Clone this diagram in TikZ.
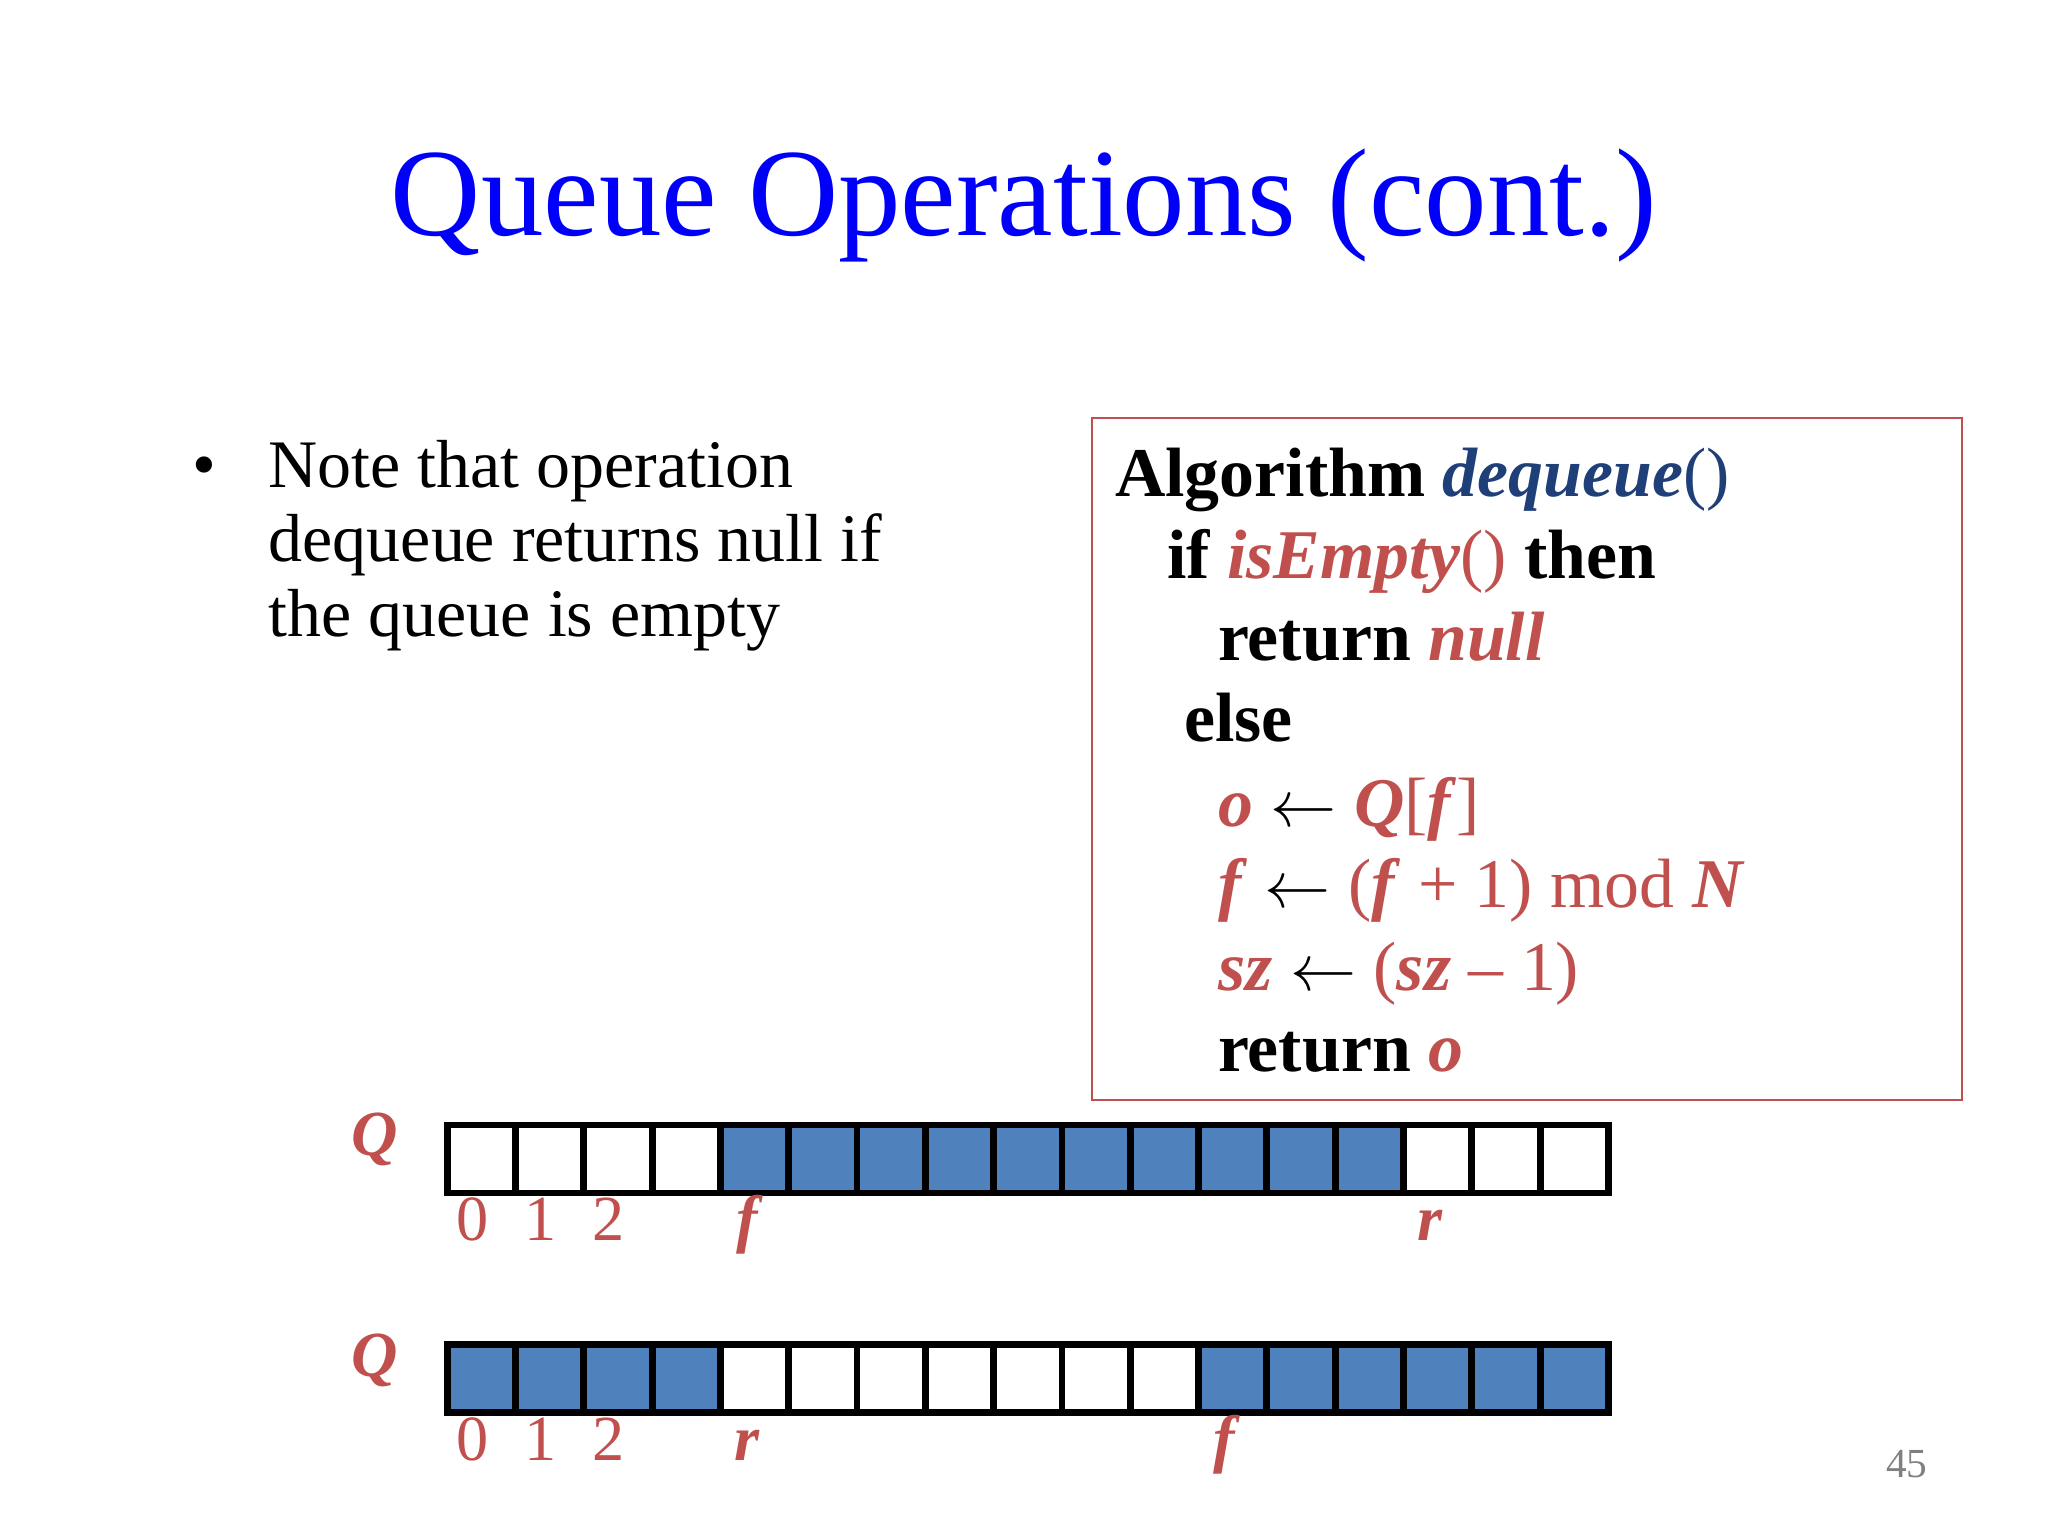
\documentclass[tikz,border=0pt]{standalone}
\usepackage{fontspec}
\setmainfont{Liberation Serif}
\definecolor{ttl}{RGB}{0,0,250}
\definecolor{dred}{RGB}{192,80,77}
\definecolor{dblue}{RGB}{31,63,120}
\definecolor{cellb}{RGB}{79,129,189}
\begin{document}
\begin{tikzpicture}[x=0.01cm,y=-0.01cm,
  txt/.style={anchor=base west,inner sep=0,font=\fontsize{14.8}{18}\selectfont},
  alg/.style={anchor=base west,inner sep=0,font=\fontsize{15.2}{18}\selectfont\bfseries},
  idx/.style={anchor=base,inner sep=0,text=dred,font=\fontsize{14}{16}\selectfont},
  cell/.style={draw=black,line width=0.05cm,minimum width=0.52cm,minimum height=0.52cm,inner sep=0,anchor=north west}]
\useasboundingbox (0,0) rectangle (1568,1176);
\node[anchor=base,inner sep=0,text=ttl,font=\fontsize{27.2}{30}\selectfont] (title) at (784,180) {Queue Operations (cont.)};
\node[txt] (b) at (147,373) {\textbullet};
\node[txt] (l1) at (205,373) {Note that operation};
\node[txt] (l2) at (205,430) {dequeue returns null if};
\node[txt] (l3) at (205,487) {the queue is empty};
\draw[dred,line width=0.013cm] (836,320) rectangle (1502,842);
\node[alg] (a1) at (853,380) {Algorithm \textcolor{dblue}{\textit{dequeue}}\textmd{\textcolor{dblue}{()}}};
\node[alg] (a2) at (893,443) {if \textcolor{dred}{\textit{isEmpty}\textmd{()}} then};
\node[alg] (a3) at (932,506) {return \textcolor{dred}{\textit{null}}};
\node[alg] (a4) at (906,568) {else};
\node[alg,text=dred] (a5) at (932,633) {\textit{o} \textcolor{black}{$\leftarrow$} \textit{Q}\textmd{[}\textit{f}\textmd{]}};
\node[alg,text=dred] (a6) at (932,695) {\textit{f} \textcolor{black}{$\leftarrow$} \textmd{(}\textit{f} \textmd{+ 1) mod} \textit{N}};
\node[alg,text=dred] (a7) at (932,758) {\textit{sz} \textcolor{black}{$\leftarrow$} \textmd{(}\textit{sz} \textmd{– 1)}};
\node[alg] (a8) at (932,820) {return \textcolor{dred}{\textit{o}}};
% arrays
\foreach \i in {0,...,16}{
  \pgfmathtruncatemacro{\fa}{(\i>=4 && \i<=13) ? 1 : 0}
  \pgfmathtruncatemacro{\fb}{(\i<=3 || \i>=11) ? 1 : 0}
  \ifnum\fa=1 \node[cell,fill=cellb] (t\i) at (340+52.3*\i,859) {};
  \else \node[cell,fill=white] (t\i) at (340+52.3*\i,859) {}; \fi
  \ifnum\fb=1 \node[cell,fill=cellb] (u\i) at (340+52.3*\i,1027) {};
  \else \node[cell,fill=white] (u\i) at (340+52.3*\i,1027) {}; \fi
}
\node[idx,font=\fontsize{14}{16}\selectfont\bfseries\itshape] (q1) at (287,885) {Q};
\node[idx,font=\fontsize{14}{16}\selectfont\bfseries\itshape] (q2) at (287,1054) {Q};
\node[idx] (i0) at (362,950) {0};
\node[idx] (i1) at (414,950) {1};
\node[idx] (i2) at (466,950) {2};
\node[idx,font=\fontsize{14}{16}\selectfont\bfseries\itshape] (f1) at (572,950) {f};
\node[idx,font=\fontsize{14}{16}\selectfont\bfseries\itshape] (r1) at (1095,950) {r};
\node[idx] (j0) at (362,1118) {0};
\node[idx] (j1) at (414,1118) {1};
\node[idx] (j2) at (466,1118) {2};
\node[idx,font=\fontsize{14}{16}\selectfont\bfseries\itshape] (r2) at (572,1118) {r};
\node[idx,font=\fontsize{14}{16}\selectfont\bfseries\itshape] (f2) at (937,1118) {f};
\node[anchor=base,inner sep=0,text=gray,font=\fontsize{9}{10}\selectfont] (pg) at (1460,1131) {45};
\end{tikzpicture}
\end{document}
